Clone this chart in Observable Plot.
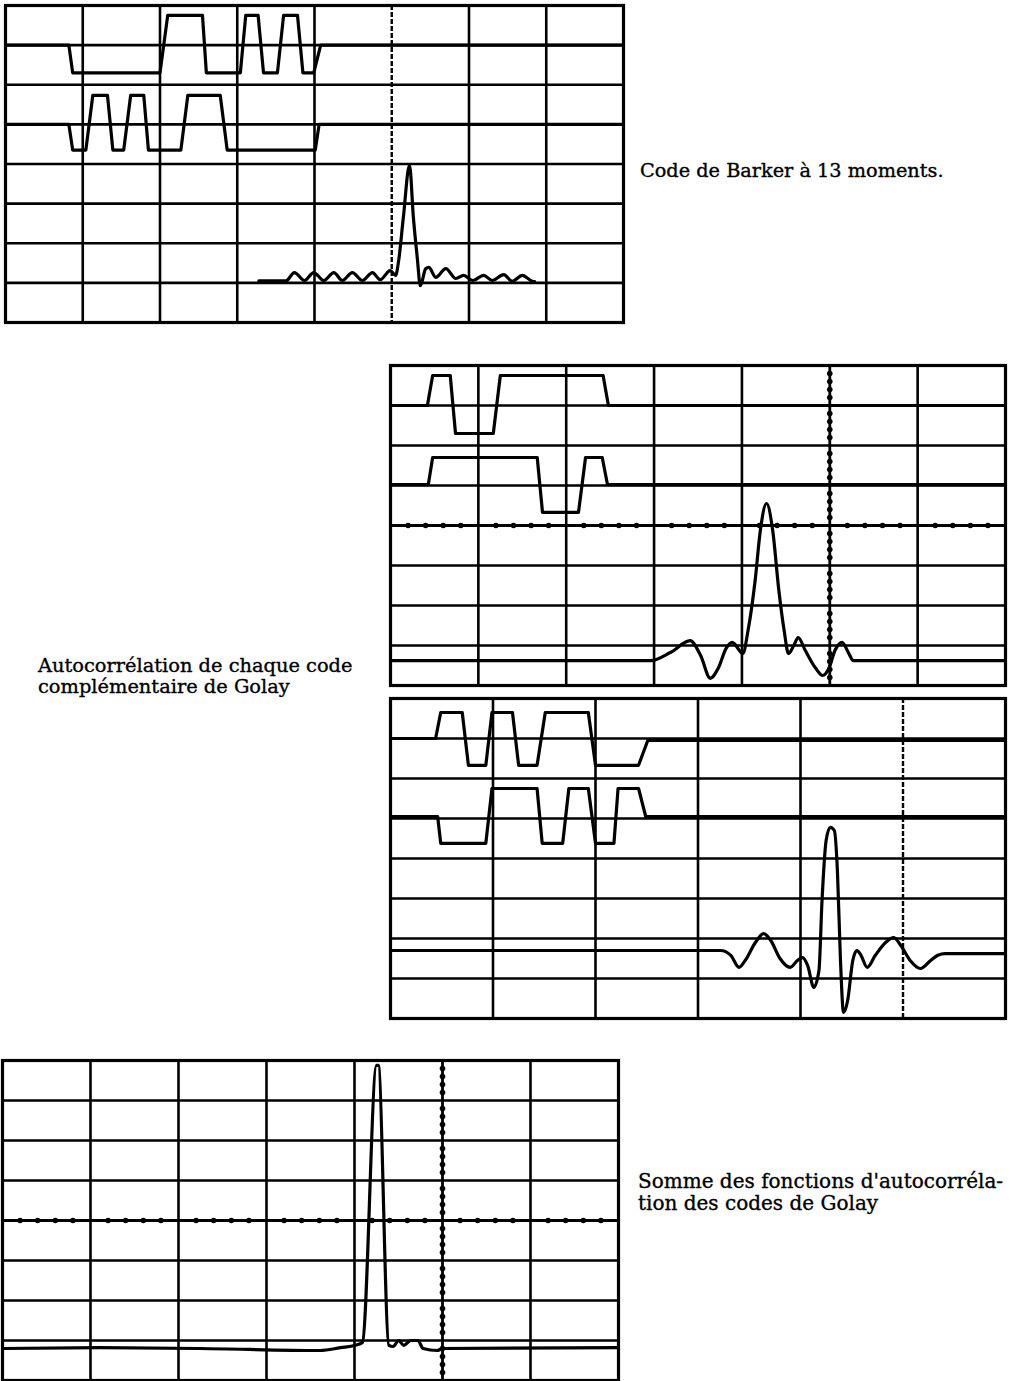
<!DOCTYPE html>
<html><head><meta charset="utf-8">
<script src="https://cdn.jsdelivr.net/npm/d3@7"></script>
<script src="https://cdn.jsdelivr.net/npm/@observablehq/plot@0.6"></script>
<style>
body{margin:0;background:#fff;}
#page{position:relative;width:1014px;height:1381px;overflow:hidden;background:#fff;}
.panel{position:absolute;}
.label{position:absolute;font-family:"DejaVu Serif",serif;font-size:19.4px;line-height:21px;color:#000;white-space:nowrap;-webkit-text-stroke:0.35px #000;}
</style></head><body><div id="page"></div>
<script>
// ---------- DATA (grid divisions: x from left, y from bottom) ----------
// Panel 1 : Barker 13
const barkerCode = [[0,7],[0.82,7],[0.87,6.3],[2.0,6.3],[2.1,7.75],[2.55,7.75],[2.6,6.3],[3.04,6.3],[3.11,7.75],[3.27,7.75],[3.34,6.3],[3.52,6.3],[3.6,7.75],[3.78,7.75],[3.85,6.3],[3.99,6.3],[4.08,7],[8,7]];
const barkerRef = [[0,5],[0.82,5],[0.87,4.35],[1.04,4.35],[1.13,5.73],[1.32,5.73],[1.39,4.35],[1.53,4.35],[1.62,5.73],[1.79,5.73],[1.85,4.35],[2.27,4.35],[2.36,5.73],[2.78,5.73],[2.87,4.35],[4.01,4.35],[4.06,5],[8,5]];
const barkerCorr = [[3.28,1.05],[3.63,1.05],[3.74,1.26],[3.87,1.06],[3.99,1.26],[4.12,1.06],[4.25,1.26],[4.36,1.06],[4.49,1.26],[4.62,1.06],[4.75,1.26],[4.85,1.08],[4.98,1.31],[5.05,1.19],[5.09,1.57],[5.15,2.65],[5.23,3.97],[5.28,2.65],[5.33,1.64],[5.37,0.93],[5.44,1.36],[5.48,1.39],[5.57,1.14],[5.70,1.36],[5.83,1.11],[5.93,1.19],[6.05,1.06],[6.19,1.19],[6.30,1.06],[6.45,1.21],[6.56,1.04],[6.69,1.19],[6.82,1.04],[6.85,1.03]];

// Panel 2 : Golay code A
const golayA1 = [[0,7],[0.42,7],[0.48,7.75],[0.68,7.75],[0.74,6.3],[1.17,6.3],[1.25,7.75],[2.42,7.75],[2.48,7],[7,7]];
const golayA2 = [[0,5.02],[0.43,5.02],[0.48,5.7],[1.67,5.7],[1.73,4.33],[2.14,4.33],[2.22,5.7],[2.41,5.7],[2.47,5.02],[7,5.02]];
const golayACorr = [[0,0.62],[2.96,0.62],[3.19,0.83],[3.41,1.12],[3.53,0.75],[3.64,0.18],[3.73,0.43],[3.82,0.93],[3.89,1.08],[4.01,0.8],[4.07,1.38],[4.15,2.62],[4.21,3.88],[4.28,4.55],[4.35,3.88],[4.42,2.38],[4.48,1.38],[4.53,0.8],[4.59,1.0],[4.64,1.2],[4.72,0.88],[4.84,0.43],[4.92,0.25],[4.99,0.43],[5.06,0.88],[5.14,1.08],[5.21,0.83],[5.27,0.62],[7,0.62]];

// Panel 3 : Golay code B
const golayB1 = [[0,7],[0.44,7],[0.49,7.65],[0.70,7.65],[0.76,6.33],[0.93,6.33],[0.99,7.65],[1.19,7.65],[1.25,6.33],[1.43,6.33],[1.51,7.65],[1.93,7.65],[2.0,6.33],[2.42,6.33],[2.51,6.95],[6,6.95]];
const golayB2 = [[0,5.05],[0.46,5.05],[0.49,4.38],[0.93,4.38],[0.99,5.75],[1.43,5.75],[1.48,4.38],[1.68,4.38],[1.74,5.75],[1.93,5.75],[2.0,4.38],[2.18,4.38],[2.22,5.75],[2.42,5.75],[2.49,5.05],[6,5.05]];
const golayBCorr = [[0,1.7],[3.22,1.7],[3.32,1.58],[3.40,1.28],[3.46,1.45],[3.56,1.9],[3.64,2.12],[3.71,1.95],[3.80,1.5],[3.90,1.28],[3.97,1.45],[4.02,1.52],[4.07,1.32],[4.13,0.78],[4.18,1.2],[4.21,2.95],[4.25,4.45],[4.29,4.78],[4.33,4.7],[4.36,3.7],[4.39,1.45],[4.42,0.15],[4.46,0.45],[4.51,1.45],[4.55,1.7],[4.59,1.58],[4.65,1.28],[4.73,1.58],[4.83,1.9],[4.91,2.02],[4.98,1.82],[5.07,1.45],[5.17,1.25],[5.27,1.45],[5.34,1.58],[5.41,1.62],[6,1.62]];

// Panel 4 : sum of Golay autocorrelations
const golaySum = [[0,0.8],[1.11,0.82],[2.25,0.8],[3.61,0.75],[3.84,0.82],[4.01,0.88],[4.09,0.95],[4.25,7.88],[4.27,7.88],[4.39,0.88],[4.44,0.85],[4.5,1.0],[4.56,0.88],[4.64,1.0],[4.72,1.0],[4.78,0.8],[4.94,0.75],[5.0,0.8],[7,0.82]];

// labels
const labelBarker = "Code de Barker à 13 moments.";
const labelAuto = ["Autocorrélation de chaque code", "complémentaire de Golay"];
const labelSum = ["Somme des fonctions d'autocorréla-", "tion des codes de Golay"];

// ---------- DRAWING ----------
const page = document.getElementById("page");
const M = 3;

function panel({left, top, w, h, cols, rows, traces, smooth, dashedX, dottedX, dottedY}) {
  const xs = d3.range(1, cols).filter(v => v !== dashedX && v !== dottedX);
  const ys = d3.range(1, rows).filter(v => v !== dottedY);
  const marks = [
    Plot.ruleX(xs, {stroke: "#000", strokeWidth: 2.6}),
    Plot.ruleY(ys, {stroke: "#000", strokeWidth: 2.6})
  ];
  if (dashedX != null) marks.push(Plot.ruleX([dashedX], {stroke: "#000", strokeWidth: 2.4, strokeDasharray: "5,2"}));
  if (dottedX != null) {
    marks.push(Plot.ruleX([dottedX], {stroke: "#000", strokeWidth: 2.8}));
    marks.push(Plot.dot(d3.range(1, rows * 5).filter(k => k % 5).map(k => k / 5), {x: () => dottedX, y: d => d, r: 2.8, fill: "#000", stroke: "none"}));
  }
  if (dottedY != null) {
    marks.push(Plot.ruleY([dottedY], {stroke: "#000", strokeWidth: 2.8}));
    marks.push(Plot.dot(d3.range(1, cols * 5).filter(k => k % 5).map(k => k / 5), {x: d => d, y: () => dottedY, r: 2.8, fill: "#000", stroke: "none"}));
  }
  traces.forEach((t, i) => marks.push(Plot.line(t, {x: d => d[0], y: d => d[1], stroke: "#000", strokeWidth: 3.2, strokeLinejoin: "round", strokeLinecap: "round", curve: smooth[i] ? "monotone-x" : "linear"})));
  marks.push(Plot.frame({stroke: "#000", strokeWidth: 3.2}));
  const svg = Plot.plot({
    width: w + 2 * M, height: h + 2 * M,
    marginTop: M, marginRight: M, marginBottom: M, marginLeft: M,
    x: {domain: [0, cols], axis: null},
    y: {domain: [0, rows], axis: null},
    style: {background: "#fff", overflow: "visible"},
    marks
  });
  const div = document.createElement("div");
  div.className = "panel";
  div.style.left = (left - M) + "px";
  div.style.top = (top - M) + "px";
  div.appendChild(svg);
  page.appendChild(div);
}

panel({left: 5, top: 5, w: 618, h: 317, cols: 8, rows: 8, traces: [barkerCode, barkerRef, barkerCorr], smooth: [false, false, true], dashedX: 5});
panel({left: 390, top: 365, w: 615, h: 320, cols: 7, rows: 8, traces: [golayA1, golayA2, golayACorr], smooth: [false, false, true], dottedX: 5, dottedY: 4});
panel({left: 390, top: 698, w: 615, h: 320, cols: 6, rows: 8, traces: [golayB1, golayB2, golayBCorr], smooth: [false, false, true], dashedX: 5});
panel({left: 2, top: 1060, w: 616, h: 320, cols: 7, rows: 8, traces: [golaySum], smooth: [true], dottedX: 5, dottedY: 4});

function label(lines, left, top, size, lh) {
  const d = document.createElement("div");
  d.className = "label";
  d.style.left = left + "px";
  d.style.top = top + "px";
  d.style.fontSize = size + "px";
  d.style.lineHeight = lh + "px";
  d.innerHTML = [].concat(lines).map(s => s.replace(/&/g, "&amp;")).join("<br>");
  page.appendChild(d);
}
label(labelBarker, 640, 160, 19.3, 21);
label(labelAuto, 38, 655, 19.4, 21);
label(labelSum, 638, 1170, 20, 22);
</script></body></html>
